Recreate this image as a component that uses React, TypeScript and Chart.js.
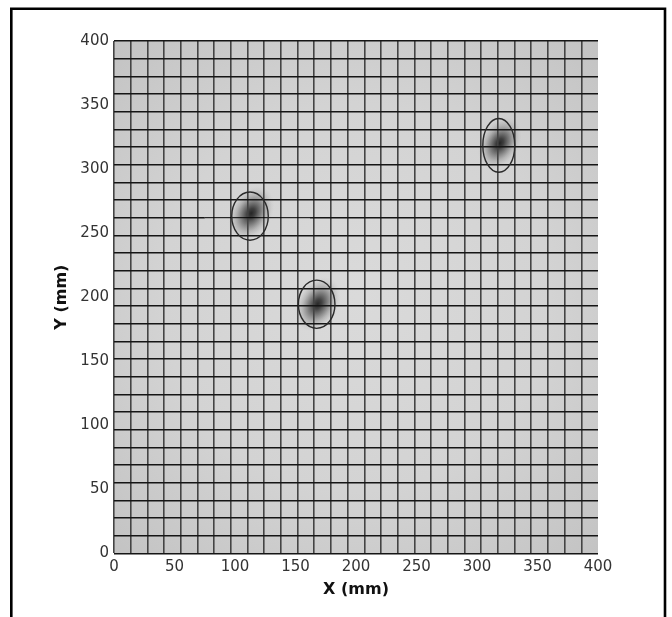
import React, { useEffect, useRef } from "react";
import { Chart, registerables } from "chart.js";

Chart.register(...registerables);

// ---- data ----
const xTickValues = [0, 50, 100, 150, 200, 250, 300, 350, 400];
const yTickValues = [0, 50, 100, 150, 200, 250, 300, 350, 400];
const AXIS_MIN = 0;
const AXIS_MAX = 400;
const GRID_CELLS = 29;

// detection circles (ellipses) around the three spots
const ringX = [112.4, 167.5, 318.0];
const ringY = [263.3, 194.5, 318.5];
const ringRadiusX = [15.1, 15.1, 13.2];
const ringRadiusY = [18.8, 18.8, 21.0];

// dark spot cores
const coreX = [113.4, 168.4, 318.8];
const coreY = [265.5, 194.6, 320.2];
const coreSpreadMajor = [24, 24, 23];
const coreSpreadMinor = [17, 17, 16];
const coreDarkness = [0.92, 0.9, 0.92];

// grid row carrying the thin contour segment, and that segment's extent
const contourRow = 19;
const contourX = [75, 162];

const gridXValues: number[] = [];
for (let k = 0; k < GRID_CELLS; k++) gridXValues.push((k * AXIS_MAX) / GRID_CELLS);
const gridYValues: number[] = [];
for (let k = 0; k <= GRID_CELLS; k++) gridYValues.push((k * AXIS_MAX) / GRID_CELLS);

const heatPlugin = {
  id: "heatField",
  beforeDraw(chart: any) {
    const { ctx, chartArea, scales } = chart;
    const { left, top, right, bottom } = chartArea;
    const xs = scales.x;
    const ys = scales.y;
    ctx.save();
    // frame
    ctx.strokeStyle = "#000";
    ctx.lineWidth = 2.6;
    ctx.beginPath();
    ctx.moveTo(11.3, 640);
    ctx.lineTo(11.3, 8.7);
    ctx.lineTo(665, 8.7);
    ctx.lineTo(665, 640);
    ctx.stroke();

    ctx.beginPath();
    ctx.rect(left, top, right - left, bottom - top);
    ctx.clip();
    const cx = (left + right) / 2;
    const cy = (top + bottom) / 2;
    const rad = Math.hypot(right - left, bottom - top) / 2;
    const g = ctx.createRadialGradient(cx, cy, 0, cx, cy, rad);
    g.addColorStop(0, "#dadada");
    g.addColorStop(0.55, "#d3d3d3");
    g.addColorStop(1, "#c3c3c3");
    ctx.fillStyle = g;
    ctx.fillRect(left, top, right - left, bottom - top);

    for (let i = 0; i < coreX.length; i++) {
      const px = xs.getPixelForValue(coreX[i]);
      const py = ys.getPixelForValue(coreY[i]);
      const major = Math.abs(xs.getPixelForValue(coreX[i] + coreSpreadMajor[i]) - px);
      const minor = Math.abs(xs.getPixelForValue(coreX[i] + coreSpreadMinor[i]) - px);
      ctx.save();
      ctx.translate(px, py);
      ctx.rotate(-Math.PI / 3);
      ctx.scale(1, minor / major);
      const a = coreDarkness[i];
      const rg = ctx.createRadialGradient(0, 0, 0, 0, 0, major);
      rg.addColorStop(0, `rgba(22,22,22,${a})`);
      rg.addColorStop(0.18, `rgba(28,28,28,${a * 0.88})`);
      rg.addColorStop(0.42, `rgba(45,45,45,${a * 0.58})`);
      rg.addColorStop(0.68, `rgba(70,70,70,${a * 0.24})`);
      rg.addColorStop(0.88, `rgba(95,95,95,${a * 0.06})`);
      rg.addColorStop(1, "rgba(120,120,120,0)");
      ctx.fillStyle = rg;
      ctx.beginPath();
      ctx.arc(0, 0, major, 0, Math.PI * 2);
      ctx.fill();
      ctx.restore();
    }
    ctx.restore();
  },
  afterDatasetsDraw(chart: any) {
    const { ctx, scales } = chart;
    const xs = scales.x;
    const ys = scales.y;
    ctx.save();
    ctx.strokeStyle = "#2a2a2a";
    ctx.lineWidth = 1.4;
    for (let i = 0; i < ringX.length; i++) {
      const px = xs.getPixelForValue(ringX[i]);
      const py = ys.getPixelForValue(ringY[i]);
      const rx = Math.abs(xs.getPixelForValue(ringX[i] + ringRadiusX[i]) - px);
      const ry = Math.abs(ys.getPixelForValue(ringY[i] + ringRadiusY[i]) - py);
      ctx.beginPath();
      ctx.ellipse(px, py, rx, ry, 0, 0, Math.PI * 2);
      ctx.stroke();
    }
    ctx.restore();
  },
};

export default function App() {
  const ref = useRef<HTMLCanvasElement | null>(null);
  useEffect(() => {
    if (!ref.current) return;
    const tickFont = { family: "'DejaVu Sans', sans-serif", size: 15 };
    const titleFont = { family: "'DejaVu Sans', sans-serif", size: 16, weight: "bold" as const };
    const rowY = gridYValues[contourRow];
    const chart = new Chart(ref.current, {
      type: "scatter",
      data: {
        datasets: [
          {
            label: "contour",
            data: contourX.map((x) => ({ x, y: rowY })),
            showLine: true,
            borderColor: "#000",
            borderWidth: 1,
            pointRadius: 0,
          },
          {
            label: "row left",
            data: [
              { x: AXIS_MIN, y: rowY },
              { x: contourX[0], y: rowY },
            ],
            showLine: true,
            borderColor: "#151515",
            borderWidth: 1.6,
            pointRadius: 0,
          },
          {
            label: "row right",
            data: [
              { x: contourX[1], y: rowY },
              { x: AXIS_MAX, y: rowY },
            ],
            showLine: true,
            borderColor: "#151515",
            borderWidth: 1.6,
            pointRadius: 0,
          },
        ],
      },
      options: {
        animation: false,
        responsive: false,
        devicePixelRatio: 1,
        layout: { padding: { left: 48, right: 74, top: 41, bottom: 14 } },
        plugins: { legend: { display: false }, tooltip: { enabled: false } },
        scales: {
          x: {
            type: "linear",
            position: "bottom",
            min: AXIS_MIN,
            max: AXIS_MAX,
            afterBuildTicks: (s: any) => {
              s.ticks = xTickValues.map((v) => ({ value: v }));
            },
            afterFit: (s: any) => {
              s.height = 49.6;
            },
            ticks: { font: tickFont, color: "#333", padding: 5, maxRotation: 0, autoSkip: false },
            grid: { display: false, drawTicks: false },
            border: { display: false },
            title: { display: true, text: "X (mm)", font: titleFont, color: "#111", padding: { top: 4, bottom: 4 } },
          },
          y: {
            type: "linear",
            position: "left",
            min: AXIS_MIN,
            max: AXIS_MAX,
            afterBuildTicks: (s: any) => {
              s.ticks = yTickValues.map((v) => ({ value: v }));
            },
            afterFit: (s: any) => {
              s.width = 66;
            },
            ticks: { font: tickFont, color: "#333", padding: 5, autoSkip: false },
            grid: { display: false, drawTicks: false },
            border: { display: false },
            title: { display: true, text: "Y (mm)", font: titleFont, color: "#111", padding: { top: 4, bottom: 4 } },
          },
          gx: {
            type: "linear",
            position: "bottom",
            min: AXIS_MIN,
            max: AXIS_MAX,
            afterBuildTicks: (s: any) => {
              s.ticks = gridXValues.map((v) => ({ value: v }));
            },
            afterFit: (s: any) => {
              s.height = 0;
            },
            ticks: { display: false },
            grid: { display: true, drawTicks: false, color: "#444", lineWidth: 1.6 },
            border: { display: false },
          },
          gy: {
            type: "linear",
            position: "left",
            min: AXIS_MIN,
            max: AXIS_MAX,
            afterBuildTicks: (s: any) => {
              s.ticks = gridYValues.map((v) => ({ value: v }));
            },
            afterFit: (s: any) => {
              s.width = 0;
            },
            ticks: { display: false },
            grid: {
              display: true,
              drawTicks: false,
              color: (c: any) => (c.index === contourRow ? "rgba(0,0,0,0)" : "#151515"),
              lineWidth: 1.6,
            },
            border: { display: false },
          },
        },
      } as any,
      plugins: [heatPlugin],
    });
    return () => chart.destroy();
  }, []);
  return (
    <div style={{ position: "absolute", left: 0, top: 0, width: 672, height: 617, background: "#fff" }}>
      <canvas ref={ref} width={672} height={617} style={{ width: 672, height: 617, display: "block" }} />
    </div>
  );
}
